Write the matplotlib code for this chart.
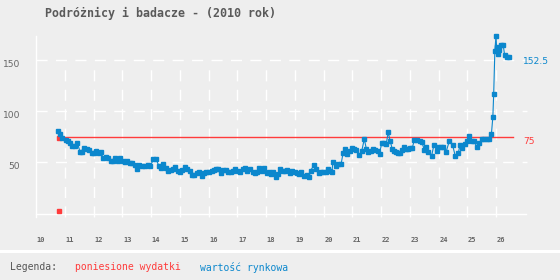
import matplotlib
matplotlib.use("Agg")
import matplotlib.pyplot as plt
from matplotlib.patches import Rectangle

plt.rcParams['lines.scale_dashes'] = False

title = "Podróżnicy i badacze - (2010 rok)"
weeks = list(range(10, 27))
week_labels = [str(w) for w in weeks]
y_ticks = [50, 100, 150]
y_labels = ["50", "100", "150"]

market_x = [10.78, 10.85, 10.91, 11.03, 11.12, 11.19, 11.26, 11.36, 11.44, 11.54, 11.61, 11.68,
            11.77, 11.85, 11.96, 12.03, 12.10, 12.19, 12.26, 12.34, 12.43, 12.51, 12.60, 12.68,
            12.76, 12.85, 12.93, 13.02, 13.10, 13.18, 13.27, 13.35, 13.43, 13.51, 13.58, 13.70,
            13.79, 13.89, 13.98, 14.08, 14.17, 14.28, 14.35, 14.43, 14.52, 14.60, 14.70, 14.77,
            14.83, 14.93, 15.01, 15.09, 15.18, 15.26, 15.35, 15.44, 15.51, 15.60, 15.68, 15.76,
            15.83, 15.92, 16.02, 16.11, 16.19, 16.27, 16.34, 16.43, 16.51, 16.60, 16.69, 16.78,
            16.85, 16.93, 17.03, 17.10, 17.19, 17.28, 17.35, 17.44, 17.54, 17.63, 17.70, 17.77,
            17.86, 17.93, 18.02, 18.11, 18.18, 18.25, 18.35, 18.43, 18.49, 18.58, 18.67, 18.74,
            18.83, 18.90, 19.00, 19.09, 19.16, 19.23, 19.32, 19.42, 19.49, 19.55, 19.67, 19.74,
            19.83, 19.90, 19.99, 20.09, 20.16, 20.22, 20.29, 20.33, 20.42, 20.51, 20.61, 20.68,
            20.75, 20.82, 20.91, 20.98, 21.05, 21.14, 21.23, 21.33, 21.42, 21.49, 21.56, 21.65,
            21.72, 21.79, 21.89, 21.95, 22.02, 22.09, 22.18, 22.25, 22.32, 22.39, 22.46, 22.53,
            22.60, 22.67, 22.74, 22.81, 22.88, 22.95, 23.02, 23.09, 23.16, 23.25, 23.35, 23.42,
            23.51, 23.57, 23.65, 23.76, 23.84, 23.94, 23.99, 24.08, 24.17, 24.26, 24.38, 24.49,
            24.58, 24.69, 24.75, 24.82, 24.92, 24.98, 25.07, 25.15, 25.23, 25.35, 25.42, 25.50,
            25.58, 25.67, 25.77, 25.84, 25.89, 25.92, 25.96, 26.00, 26.02, 26.07, 26.12, 26.18,
            26.25, 26.30, 26.37, 26.44]
market_v = [80.5, 77.3, 74.0, 72.0, 70.7, 69.0, 65.6, 66.0, 68.5, 59.7, 59.7, 63.6,
            63.0, 62.0, 58.7, 58.7, 61.0, 58.7, 59.7, 53.8, 54.8, 53.8, 51.2, 51.2,
            53.8, 51.2, 53.8, 51.2, 50.0, 51.2, 49.0, 49.0, 47.3, 43.4, 47.3, 46.3,
            46.3, 47.3, 46.3, 52.9, 52.9, 46.3, 44.0, 48.0, 44.0, 41.5, 42.4, 43.4,
            45.0, 41.5, 40.2, 42.4, 45.0, 43.4, 41.8, 37.6, 37.6, 39.2, 40.2, 36.6,
            39.2, 40.2, 40.8, 41.8, 42.4, 43.0, 43.0, 39.2, 42.4, 42.4, 40.2, 40.2,
            41.5, 43.0, 41.8, 40.2, 43.4, 44.0, 41.5, 43.0, 40.2, 39.2, 40.2, 44.0,
            41.8, 44.0, 39.2, 40.8, 38.5, 40.2, 35.3, 38.5, 43.0, 41.8, 41.8, 42.4,
            39.2, 41.8, 40.2, 39.2, 38.5, 40.8, 36.6, 37.6, 35.3, 41.8, 47.3, 43.4,
            39.2, 40.8, 40.8, 40.8, 43.0, 41.5, 40.2, 50.5, 46.6, 48.0, 48.0, 58.7,
            63.0, 57.7, 61.0, 64.2, 63.0, 62.0, 57.2, 61.0, 72.7, 63.0, 59.7, 61.0,
            63.0, 62.0, 61.0, 57.7, 68.5, 68.5, 67.5, 79.2, 70.7, 63.0, 61.0, 59.7,
            58.7, 58.7, 62.0, 65.2, 63.0, 63.0, 64.2, 64.2, 71.7, 71.7, 70.7, 69.5,
            62.0, 64.6, 60.3, 56.1, 66.8, 61.3, 64.6, 64.6, 64.6, 59.7, 71.0, 66.8,
            56.4, 59.3, 67.1, 63.6, 67.8, 71.0, 75.6, 71.0, 70.4, 64.6, 68.5, 72.7,
            72.7, 72.7, 72.7, 77.6, 93.9, 117.0, 158.8, 173.2, 162.7, 155.6, 159.5, 164.4,
            164.4, 154.6, 152.5, 152.5]

spend_line_x = [10.81, 26.58]
spend_line_v = [75, 75]
spend_pts_x = [10.81, 10.81]
spend_pts_v = [73.5, 2.0]

market_last = "152.5"
spend_last = "75"

legend_title = "Legenda:"
legend_names = ["poniesione wydatki", "wartość rynkowa"]

BLUE = "#0b87cd"
RED = "#ff3b3b"
BG = "#eeeeee"
GRAY = "#5a5a5a"

fig = plt.figure(figsize=(5.6, 2.8), dpi=100, facecolor=BG)
W, H = 560.0, 280.0
px_per_week = 28.75
x_left_px, x_right_px = 36.0, 527.0
y_top_px, y_bot_px = 36.0, 213.5
ax = fig.add_axes([x_left_px / W, 1 - y_bot_px / H,
                   (x_right_px - x_left_px) / W, (y_bot_px - y_top_px) / H])
ax.set_facecolor(BG)
xmax = 10 + (x_right_px - x_left_px) / px_per_week
ymax = (y_bot_px - y_top_px) / 1.025
ax.set_xlim(10, xmax)
ax.set_ylim(0, ymax)
for s in ax.spines.values():
    s.set_visible(False)
ax.set_xticks([])
ax.set_yticks([])

# grid
dash = (0, (8, 6))
for yv in y_ticks:
    ax.plot([10, xmax], [yv, yv], color="white", lw=1.0, linestyle=dash, clip_on=False, zorder=1)
for w in weeks[1:]:
    ax.plot([w, w], [-3, 146], color="white", lw=1.0, linestyle=dash, clip_on=False, zorder=1)
ax.plot([10, 10], [-3, ymax], color="white", lw=1.0, clip_on=False, zorder=1)
ax.plot([10, xmax - 0.05], [0, 0], color="white", lw=1.0, clip_on=False, zorder=1)

# series
ax.plot(spend_line_x, spend_line_v, color=RED, lw=1.0, zorder=3, clip_on=False)
ax.plot(spend_pts_x, spend_pts_v, linestyle="none", marker="s", ms=2.2, color=RED,
        mec=RED, zorder=4, clip_on=False)
ax.plot(market_x, market_v, color=BLUE, lw=0.8, marker="s", ms=2.2, mec=BLUE,
        zorder=5, clip_on=False)

# labels
lab_x = 10 + (523 - x_left_px) / px_per_week
ax.text(lab_x, market_v[-1], market_last, color=BLUE, fontsize=6.6, ha="left", va="top",
        family="DejaVu Sans", clip_on=False)
ax.text(lab_x, spend_line_v[-1], spend_last, color=RED, fontsize=6.6, ha="left", va="top",
        family="DejaVu Sans", clip_on=False)

for yv, lab in zip(y_ticks, y_labels):
    ax.text(10 - (16 / px_per_week), yv, lab, color="#666666", fontsize=6.6, ha="right",
            va="top", family="DejaVu Sans", clip_on=False)

for w, lab in zip(weeks, week_labels):
    ax.text(w + 0.03, -22.5, lab, color="#666666", fontsize=5.0, fontweight="bold",
            ha="left", va="top", family="DejaVu Sans Mono", clip_on=False)

fig.text(45 / W, 1 - 7 / H, title, color=GRAY, fontsize=8.4, fontweight="bold",
         ha="left", va="top", family="DejaVu Sans Mono")

fig.patches.append(Rectangle((0, 1 - 253 / H), 1, 3 / H, transform=fig.transFigure,
                             facecolor="white", edgecolor="none", zorder=0))

fig.text(10 / W, 1 - 262 / H, legend_title, color="#555555", fontsize=7, ha="left", va="top",
         family="DejaVu Sans Mono")
fig.text(75 / W, 1 - 262 / H, legend_names[0], color=RED, fontsize=7, ha="left", va="top",
         family="DejaVu Sans Mono")
fig.text(200 / W, 1 - 262 / H, legend_names[1], color=BLUE, fontsize=7, ha="left", va="top",
         family="DejaVu Sans Mono")

fig.savefig("out.png", dpi=100, facecolor=BG)
